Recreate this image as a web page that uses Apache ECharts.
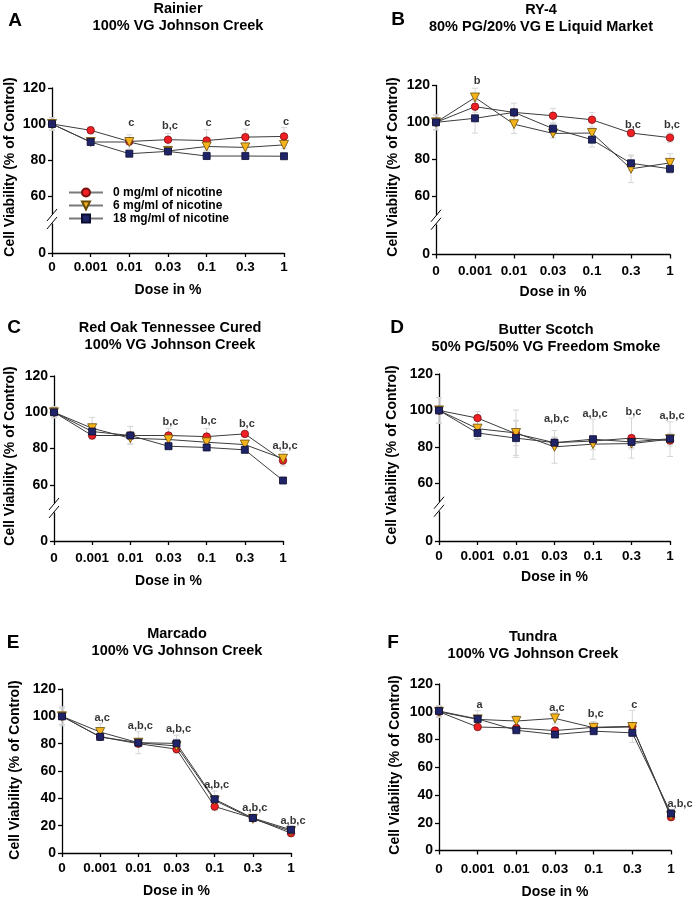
<!DOCTYPE html>
<html><head><meta charset="utf-8">
<script src="https://cdn.jsdelivr.net/npm/echarts@6.0.0/dist/echarts.min.js"></script>
<style>html,body{margin:0;padding:0;background:#fff}#c{width:693px;height:900px}</style>
</head><body><div id="c"></div>
<script>
// ---------- data ----------
const doses = ['0', '0.001', '0.01', '0.03', '0.1', '0.3', '1'];
const seriesNames = ['0 mg/ml of nicotine', '6 mg/ml of nicotine', '18 mg/ml of nicotine'];
const yTicksBroken = [60, 80, 100, 120];
const yTicksLow = [0];

// A  Rainier
const A_0mg  = [100, 96.5, 90.3, 91.3, 90.8, 92.7, 93.1];
const A_6mg  = [100, 90, 90, 85, 87.5, 87, 88.4];
const A_18mg = [100, 90, 83.5, 84.8, 82.2, 82.2, 82.1];
const A_0mg_err  = [3.5, 2, 2, 3.5, 6, 4.5, 5];
const A_6mg_err  = [3.5, 2, 4, 2, 2, 2, 2];
const A_18mg_err = [3.5, 1.5, 1.5, 1.5, 1.5, 1.5, 1.5];
const A_ann  = ['', '', 'c', 'b,c', 'c', 'c', 'c'];
const A_annY = [null, null, 100.5, 99, 100.5, 100.5, 101];

// B  RY-4
const B_0mg  = [100, 108.5, 105.4, 103.6, 101.4, 94.2, 91.7];
const B_6mg  = [100, 113.5, 99, 94, 94.2, 74.8, 78];
const B_18mg = [100, 102.2, 105.4, 96.6, 90.6, 77.8, 74.8];
const B_0mg_err  = [4, 3, 2, 4, 4, 2, 2.5];
const B_6mg_err  = [4, 5, 5, 2.5, 2.5, 7.5, 5];
const B_18mg_err = [4, 8, 5, 3, 4, 4, 2.5];
const B_ann  = ['', 'b', '', '', '', 'b,c', 'b,c'];
const B_annY = [null, 122.2, null, null, null, 98.7, 98.7];

// C  Red Oak Tennessee Cured
const C_0mg  = [100, 87.2, 87.2, 87.2, 86.6, 88.1, 73.4];
const C_6mg  = [100, 91.2, 85.7, 85, 83.5, 82.2, 74.4];
const C_18mg = [100, 89.4, 87.2, 81.3, 80.6, 79.3, 62.4];
const C_0mg_err  = [3, 2, 5, 4, 4.5, 1.5, 2];
const C_6mg_err  = [3, 6, 3, 2, 2, 2, 4];
const C_18mg_err = [3, 3, 2, 1.5, 1.5, 1.5, 1];
const C_ann  = ['', '', '', 'b,c', 'b,c', 'b,c', 'a,b,c'];
const C_annY = [null, null, null, 94.9, 95.4, 93.6, 81.7];

// D  Butter Scotch
const D_0mg  = [100, 95.8, 87.2, 82.3, 83.2, 84.8, 83.5];
const D_6mg  = [100, 90, 87.6, 80, 81.5, 81.8, 84.2];
const D_18mg = [100, 87.6, 84.8, 82.3, 84.2, 82.7, 84.5];
const D_0mg_err  = [7, 3.5, 13, 3, 3, 11, 3];
const D_6mg_err  = [7, 6, 7, 9, 3, 3, 9.5];
const D_18mg_err = [7, 3, 9.5, 3, 11, 3, 3];
const D_ann  = ['', '', '', 'a,b,c', 'a,b,c', 'b,c', 'a,b,c'];
const D_annY = [null, null, null, 95.4, 97.8, 99.1, 96.9];

// E  Marcado
const E_0mg  = [100, 85, 80, 76, 34, 25.5, 14.5];
const E_6mg  = [100, 88.5, 80.7, 78.3, 38.5, 25, 16];
const E_18mg = [100, 85, 80.7, 80.2, 39.3, 25.6, 17];
const E_0mg_err  = [7, 2, 2, 3, 3, 2, 2];
const E_6mg_err  = [6, 6, 8, 5, 3, 2, 2];
const E_18mg_err = [6, 2, 3, 6, 6, 2, 2];
const E_ann  = ['', 'a,c', 'a,b,c', 'a,b,c', 'a,b,c', 'a,b,c', 'a,b,c'];
const E_annY = [null, 98.8, 92.7, 91, 49.8, 32.8, 23.6];

// F  Tundra
const F_0mg  = [100, 89, 88.3, 86.4, 88.8, 89.5, 24];
const F_6mg  = [100, 94.5, 93.3, 95.2, 88.5, 89, 25];
const F_18mg = [100.5, 94.8, 86.7, 83.6, 86, 84.8, 26.7];
const F_0mg_err  = [4, 2, 2, 2, 2, 11.5, 2];
const F_6mg_err  = [4, 3, 4, 4, 4.5, 3, 2];
const F_18mg_err = [4, 6, 2, 2, 2, 2, 3];
const F_ann  = ['', 'a', '', 'a,c', 'b,c', 'c', 'a,b,c'];
const F_annY = [null, 104.8, null, 102.9, 98.1, 104.6, 33.2];

// ---------- layout / style ----------
const FONT = '"Liberation Sans", Arial, Helvetica, sans-serif';
const P = [
  {id:'A', t1:'Rainier', t2:'100% VG Johnson Creek', vals:[A_0mg,A_6mg,A_18mg], errs:[A_0mg_err,A_6mg_err,A_18mg_err], ann:A_ann, annY:A_annY,
   broken:true, L:52, R:284, top:88, upH:126, loTop:224, y0:253, lm:7.5, ng:30, tx:178, ty1:8.5, ty2:26, lx:15, ly:21, nx:10, ny:167},
  {id:'B', t1:'RY-4', t2:'80% PG/20% VG E Liquid Market', vals:[B_0mg,B_6mg,B_18mg], errs:[B_0mg_err,B_6mg_err,B_18mg_err], ann:B_ann, annY:B_annY,
   broken:true, L:436, R:670, top:85.5, upH:129, loTop:225, y0:254.5, lm:10, ng:31, tx:541, ty1:9.5, ty2:27, lx:398, ly:19.5, nx:393, ny:167},
  {id:'C', t1:'Red Oak Tennessee Cured', t2:'100% VG Johnson Creek', vals:[C_0mg,C_6mg,C_18mg], errs:[C_0mg_err,C_6mg_err,C_18mg_err], ann:C_ann, annY:C_annY,
   broken:true, L:54, R:283, top:376, upH:127, loTop:513, y0:541, lm:10, ng:33.5, tx:170, ty1:328, ty2:345, lx:14, ly:328, nx:10, ny:456},
  {id:'D', t1:'Butter Scotch', t2:'50% PG/50% VG Freedom Smoke', vals:[D_0mg,D_6mg,D_18mg], errs:[D_0mg_err,D_6mg_err,D_18mg_err], ann:D_ann, annY:D_annY,
   broken:true, L:439, R:670, top:374, upH:127.5, loTop:512, y0:541, lm:8.5, ng:29.5, tx:546, ty1:329.5, ty2:347, lx:397, ly:328, nx:392, ny:455},
  {id:'E', t1:'Marcado', t2:'100% VG Johnson Creek', vals:[E_0mg,E_6mg,E_18mg], errs:[E_0mg_err,E_6mg_err,E_18mg_err], ann:E_ann, annY:E_annY,
   broken:false, L:62, R:291, top:689, y0:853, lm:8.5, ng:31.5, tx:177, ty1:633.5, ty2:651, lx:13, ly:643, nx:15.5, ny:770},
  {id:'F', t1:'Tundra', t2:'100% VG Johnson Creek', vals:[F_0mg,F_6mg,F_18mg], errs:[F_0mg_err,F_6mg_err,F_18mg_err], ann:F_ann, annY:F_annY,
   broken:false, L:439, R:671, top:684, y0:851, lm:12, ng:34.5, tx:533, ty1:636.5, ty2:653.5, lx:393, ly:643, nx:395.5, ny:765, annOff:{6:[9,0]}}
];

const MARK = [
  {symbol:'circle', size:7.5, rot:0, color:'#ef1f24', border:'#7a1010'},
  {symbol:'triangle', size:9, rot:180, color:'#f6b41c', border:'#6b4c06'},
  {symbol:'rect', size:7, rot:0, color:'#1e2467', border:'#0b0d30'}
];
const AX = {color:'#000', width:1.3};
const lbl = (size, extra) => Object.assign({color:'#000', fontWeight:'bold', fontFamily:FONT, fontSize:size}, extra || {});

const option = {
  animation:false,
  textStyle:{fontFamily:FONT},
  grid:[], xAxis:[], yAxis:[], series:[], graphic:[],
  legend:{
    data:seriesNames, selectedMode:false, orient:'vertical', left:63, top:181,
    itemWidth:34, itemHeight:10, itemGap:0,
    lineStyle:{color:'#7a7a7a', width:2},
    textStyle:lbl(12, {lineHeight:13, padding:[0,0,0,5]})
  }
};

function bottomX(gi, p) {
  return {gridIndex:gi, type:'category', data:doses, boundaryGap:false,
    axisLine:{show:true, lineStyle:AX}, axisTick:{show:true, length:4, lineStyle:AX},
    axisLabel:lbl(13.5, {interval:0, margin:p.lm}),
    name:'Dose in %', nameLocation:'middle', nameGap:p.ng, nameTextStyle:lbl(14)};
}
function yAx(gi, min, max, ticks) {
  return {gridIndex:gi, type:'value', min:min, max:max,
    axisLine:{show:true, lineStyle:AX},
    axisTick:{show:true, length:4, lineStyle:AX, customValues:ticks},
    axisLabel:lbl(14, {margin:6, customValues:ticks}),
    splitLine:{show:false}};
}
function text(x, y, s, size, rot) {
  return {type:'text', x:x, y:y, rotation:rot || 0, silent:true,
    style:{text:s, fill:'#000', fontSize:size, fontWeight:'bold', fontFamily:FONT,
      align:'center', verticalAlign:'middle', textAlign:'center', textVerticalAlign:'middle'}};
}

P.forEach(p => {
  const g = option.grid.length;
  const W = p.R - p.L;
  if (p.broken) {
    option.grid.push({left:p.L, top:p.top, width:W, height:p.upH});
    option.grid.push({left:p.L, top:p.loTop, width:W, height:p.y0 - p.loTop});
    option.xAxis.push({gridIndex:g, type:'category', data:doses, boundaryGap:false, show:false});
    option.xAxis.push(bottomX(g + 1, p));
    option.yAxis.push(yAx(g, 50, 120, yTicksBroken));
    option.yAxis.push(yAx(g + 1, 0, 10, yTicksLow));
    const mid = (p.top + p.upH + p.loTop) / 2;
    [-4, 4].forEach(d => option.graphic.push({type:'line', silent:true,
      shape:{x1:p.L - 5, y1:mid + d + 6, x2:p.L + 5, y2:mid + d - 6}, style:{stroke:'#000', lineWidth:1}}));
  } else {
    option.grid.push({left:p.L, top:p.top, width:W, height:p.y0 - p.top});
    option.xAxis.push(bottomX(g, p));
    const ax = yAx(g, 0, 120);
    ax.interval = 20;
    delete ax.axisTick.customValues; delete ax.axisLabel.customValues;
    option.yAxis.push(ax);
  }
  // error bars
  p.vals.forEach((vals, si) => {
    option.series.push({type:'custom', xAxisIndex:g, yAxisIndex:g, z:1, silent:true, clip:false,
      dimensions:['x','y','e'], encode:{x:0, y:1},
      data: vals.map((v, i) => [i, v, p.errs[si][i]]),
      renderItem: (params, api) => {
        const x = api.value(0), y = api.value(1), e = api.value(2);
        const t = api.coord([x, y + e]), b = api.coord([x, y - e]);
        const st = {stroke:'#d6d6d6', lineWidth:1};
        return {type:'group', children:[
          {type:'line', shape:{x1:t[0], y1:t[1], x2:b[0], y2:b[1]}, style:st},
          {type:'line', shape:{x1:t[0]-3, y1:t[1], x2:t[0]+3, y2:t[1]}, style:st},
          {type:'line', shape:{x1:b[0]-3, y1:b[1], x2:b[0]+3, y2:b[1]}, style:st}
        ]};
      }});
  });
  // lines + markers
  p.vals.forEach((vals, si) => {
    const m = MARK[si];
    option.series.push({type:'line', name:seriesNames[si], xAxisIndex:g, yAxisIndex:g, z:3 + si,
      data:vals, symbol:m.symbol, symbolSize:m.size, symbolRotate:m.rot, showAllSymbol:true, clip:false,
      itemStyle:{color:m.color, borderColor:m.border, borderWidth:0.8},
      lineStyle:{color:'#3c3c3c', width:1}, emphasis:{disabled:true}});
  });
  // significance letters
  option.series.push({type:'scatter', xAxisIndex:g, yAxisIndex:g, z:10, silent:true, clip:false,
    symbolSize:1, itemStyle:{color:'rgba(0,0,0,0)'},
    data: p.ann.map((t, i) => t ? {name:t, value:[i, p.annY[i]],
      label:{offset:(p.annOff && p.annOff[i]) || [2, 0]}} : null).filter(Boolean),
    label:{show:true, position:'inside', formatter:q => q.name, ...lbl(11)}});
  // texts
  option.graphic.push(text(p.tx, p.ty1, p.t1, 14.5));
  option.graphic.push(text(p.tx, p.ty2, p.t2, 14.5));
  option.graphic.push(text(p.lx, p.ly, p.id, 19));
  option.graphic.push(text(p.nx, p.ny, 'Cell Viability (% of Control)', 14, Math.PI / 2));
});

const chart = echarts.init(document.getElementById('c'), null, {renderer:'canvas'});
chart.setOption(option);
</script>
</body></html>
